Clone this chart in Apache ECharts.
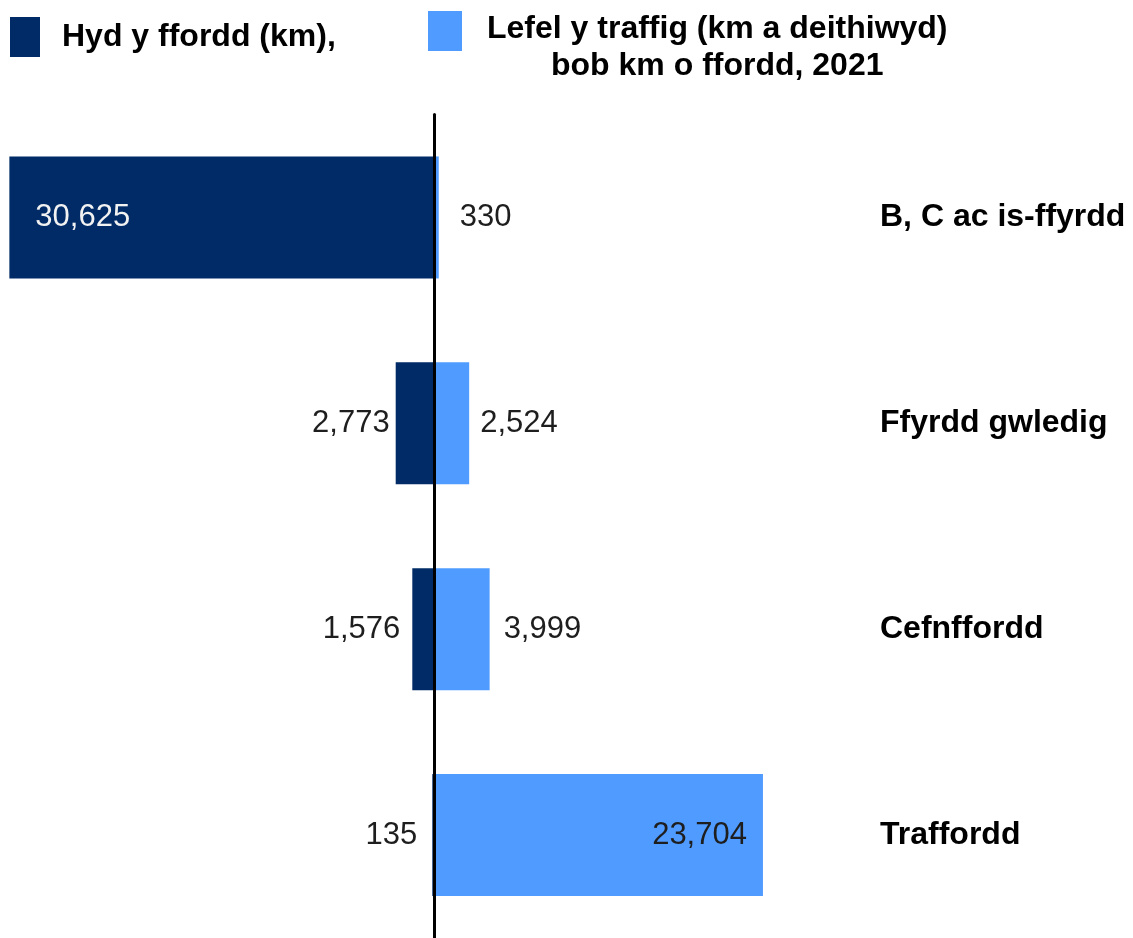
<!DOCTYPE html>
<html>
<head>
<meta charset="utf-8">
<script src="https://cdn.jsdelivr.net/npm/echarts@6/dist/echarts.min.js"></script>
<style>
html,body{margin:0;padding:0;background:#fff;}
#chart{width:1133px;height:938px;}
</style>
</head>
<body>
<div id="chart"></div>
<script>
const categories = ['B, C ac is-ffyrdd', 'Ffyrdd gwledig', 'Cefnffordd', 'Traffordd'];
const roadLength = [30625, 2773, 1576, 135];
const trafficLevel = [330, 2524, 3999, 23704];
const seriesNames = ['Hyd y ffordd (km),', 'Lefel y traffig (km a deithiwyd) bob km o ffordd, 2021'];

const FONT = '"Liberation Sans", Arial, sans-serif';
const DARK = '#002b66';
const LIGHT = '#4f9bff';
const TXT = '#1e1e1e';

// label styling (position/distance per bar)
const leftLabelStyle = [
  {position: 'insideLeft', distance: 26, color: '#f2f2f2'},
  {position: 'left', distance: 6, color: TXT},
  {position: 'left', distance: 12, color: TXT},
  {position: 'left', distance: 15, color: TXT}
];
const rightLabelStyle = [
  {position: 'right', distance: 21, color: TXT},
  {position: 'right', distance: 11, color: TXT},
  {position: 'right', distance: 14, color: TXT},
  {position: 'insideRight', distance: 16, color: TXT}
];

const fmt = v => Math.abs(v).toLocaleString('en-GB');

const chart = echarts.init(document.getElementById('chart'), null, {renderer: 'canvas'});
chart.setOption({
  animation: false,
  backgroundColor: '#ffffff',
  textStyle: {fontFamily: FONT},
  legend: [
    {
      data: [seriesNames[0]],
      left: 10, top: 17, padding: 0,
      itemWidth: 30, itemHeight: 40,
      icon: 'rect',
      selectedMode: false,
      textStyle: {fontFamily: FONT, fontSize: 32, fontWeight: 'bold', color: '#000', padding: [6, 0, 0, 17]}
    },
    {
      data: [seriesNames[1]],
      left: 428, top: 11, padding: 0,
      itemWidth: 34, itemHeight: 40,
      icon: 'rect',
      selectedMode: false,
      formatter: function () {
        return '{a|Lefel y traffig (km a deithiwyd)}\n{a|bob km o ffordd, 2021}';
      },
      textStyle: {
        fontFamily: FONT, fontSize: 32, fontWeight: 'bold', color: '#000',
        padding: [33, 0, 0, 20],
        rich: {a: {fontFamily: FONT, fontSize: 32, fontWeight: 'bold', color: '#000', lineHeight: 37, align: 'center'}}
      }
    }
  ],
  grid: {left: 0, top: 114.5, width: 860, height: 827, containLabel: false},
  xAxis: {
    type: 'value',
    min: -31300, max: 30700,
    show: false
  },
  yAxis: [
    {
      type: 'category',
      data: categories,
      inverse: true,
      z: 10,
      axisLine: {show: true, onZero: true, lineStyle: {color: '#000', width: 3}},
      axisTick: {show: false},
      axisLabel: {show: false},
      splitLine: {show: false}
    },
    {
      type: 'category',
      data: categories,
      inverse: true,
      position: 'right',
      axisLine: {show: false, onZero: false},
      axisTick: {show: false},
      splitLine: {show: false},
      axisLabel: {
        show: true, margin: 20, align: 'left',
        fontFamily: FONT, fontSize: 32, fontWeight: 'bold', color: '#000'
      }
    }
  ],
  series: [
    {
      name: seriesNames[0],
      type: 'bar',
      yAxisIndex: 0,
      barWidth: 122,
      barGap: '-100%',
      itemStyle: {color: DARK},
      data: roadLength.map((v, i) => ({
        value: -v,
        label: Object.assign({show: true, fontSize: 31, fontFamily: FONT, formatter: p => fmt(p.value)}, leftLabelStyle[i])
      }))
    },
    {
      name: seriesNames[1],
      type: 'bar',
      yAxisIndex: 0,
      barWidth: 122,
      barGap: '-100%',
      itemStyle: {color: LIGHT},
      data: trafficLevel.map((v, i) => ({
        value: v,
        label: Object.assign({show: true, fontSize: 31, fontFamily: FONT, formatter: p => fmt(p.value)}, rightLabelStyle[i])
      }))
    }
  ]
});
</script>
</body>
</html>
